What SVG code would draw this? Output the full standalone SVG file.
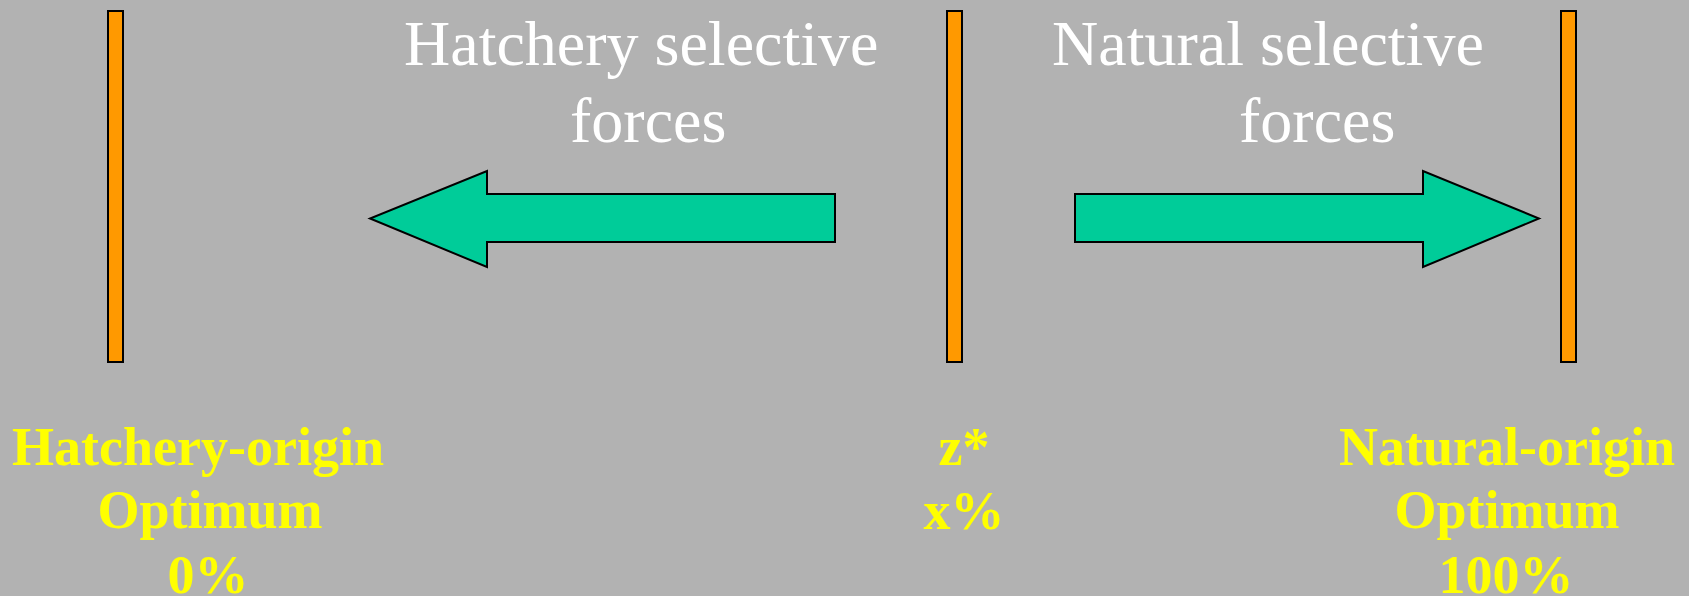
<svg xmlns="http://www.w3.org/2000/svg" width="1689" height="596" viewBox="0 0 1689 596">
<style>
.bar{fill:#FF9900;stroke:#000;stroke-width:2}
.arrow{fill:#00CC99;stroke:#000;stroke-width:2;stroke-linejoin:miter}
.w{font-family:"Liberation Serif","Times New Roman",serif;font-size:64px;fill:#FFFFFF}
.y{font-family:"Liberation Serif","Times New Roman",serif;font-size:54px;font-weight:bold;fill:#FFFF00;text-anchor:middle}
</style>
<rect width="1689" height="596" fill="#B2B2B2"/>
<g id="bar-hatchery"><rect class="bar" x="108" y="11" width="15" height="351"/></g>
<g id="bar-mid"><rect class="bar" x="947" y="11" width="15" height="351"/></g>
<g id="bar-natural"><rect class="bar" x="1561" y="11" width="15" height="351"/></g>
<g id="connectors">
<polygon class="arrow" points="835,194 487,194 487,171 370,218.5 487,267 487,242 835,242"/>
<polygon class="arrow" points="1075,194 1423,194 1423,171 1539,218.5 1423,267 1423,242 1075,242"/>
</g>
<g id="label-hatchery-forces">
<text class="w" x="404" y="65">Hatchery selective</text>
<text class="w" x="570" y="142">forces</text>
</g>
<g id="label-natural-forces">
<text class="w" x="1052" y="65">Natural selective</text>
<text class="w" x="1239" y="142">forces</text>
</g>
<g id="label-hatchery-optimum">
<text class="y" x="198" y="465">Hatchery-origin</text>
<text class="y" x="210" y="528">Optimum</text>
<text class="y" x="208" y="593">0%</text>
</g>
<g id="label-z">
<text class="y" x="964" y="465">z*</text>
<text class="y" x="964" y="529">x%</text>
</g>
<g id="label-natural-optimum">
<text class="y" x="1507" y="465">Natural-origin</text>
<text class="y" x="1507" y="528">Optimum</text>
<text class="y" x="1506" y="593">100%</text>
</g>
</svg>
